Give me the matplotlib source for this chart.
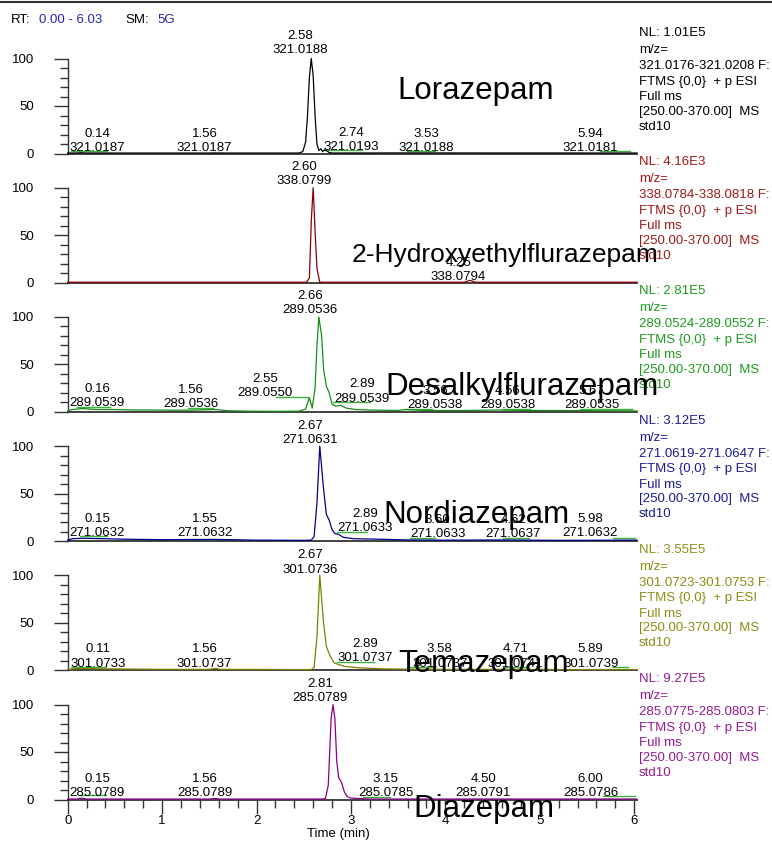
import matplotlib
matplotlib.use('Agg')
import matplotlib.pyplot as plt
from matplotlib.ticker import MultipleLocator
from matplotlib.lines import Line2D

plt.rcParams['font.family'] = ['Liberation Sans', 'DejaVu Sans']

W, H = 772, 841

# ---------------- data ----------------
compounds = ['Lorazepam', '2-Hydroxyethylflurazepam', 'Desalkylflurazepam',
             'Nordiazepam', 'Temazepam', 'Diazepam']
nl_values = ['1.01E5', '4.16E3', '2.81E5', '3.12E5', '3.55E5', '9.27E5']
mz_ranges = ['321.0176-321.0208', '338.0784-338.0818', '289.0524-289.0552',
             '271.0619-271.0647', '301.0723-301.0753', '285.0775-285.0803']
x_ticks = [0, 1, 2, 3, 4, 5, 6]
y_ticks = [0, 50, 100]

# traces (time in min, relative abundance %)
p1_t = [0.00, 0.10, 0.14, 0.20, 1.50, 1.56, 1.62, 2.45, 2.49, 2.52, 2.54, 2.56, 2.58, 2.60,
        2.62, 2.64, 2.66, 2.68, 2.70, 2.72, 2.74, 2.77, 2.80, 3.53, 5.94, 6.03]
p1_y = [0.5, 0.5, 0.8, 0.5, 0.5, 0.6, 0.5, 0.5, 2, 12, 40, 80, 100, 82,
        40, 10, 3, 5, 2, 4, 3, 1, 0.5, 0.6, 0.5, 0.5]

p2_t = [0.00, 2.53, 2.56, 2.58, 2.60, 2.62, 2.64, 2.67, 4.20, 4.26, 4.32, 6.03]
p2_y = [0.5, 0.5, 5, 65, 100, 55, 15, 0.5, 0.5, 2.5, 0.5, 0.5]

p3_t = [0.00, 0.05, 0.10, 0.16, 0.30, 0.50, 0.70, 0.90, 1.10, 1.30, 1.56, 1.70, 1.90,
        2.20, 2.45, 2.52, 2.56, 2.59, 2.62, 2.64, 2.66, 2.69, 2.71, 2.74, 2.77, 2.80,
        2.84, 2.89, 2.95, 3.05, 3.20, 3.50, 3.58, 3.80, 4.20, 4.56, 4.90, 5.30, 5.60, 6.03]
p3_y = [1.0, 2.5, 3.0, 3.5, 2.5, 2.5, 2.0, 2.0, 1.8, 1.8, 2.5, 1.2, 0.8,
        0.6, 0.8, 3, 15, 4, 25, 70, 100, 80, 45, 27, 20, 8,
        6, 7, 4, 2.5, 2.0, 1.5, 2.5, 1.5, 1.5, 2.0, 1.5, 1.5, 1.2, 1.0]

p4_t = [0.00, 0.05, 0.15, 0.40, 0.60, 1.00, 1.55, 2.00, 2.50, 2.58, 2.61, 2.64, 2.67,
        2.71, 2.74, 2.77, 2.80, 2.83, 2.87, 2.92, 3.03, 3.30, 3.60, 4.00, 4.62, 5.20, 5.98, 6.03]
p4_y = [1.0, 2.5, 3.0, 2.5, 2.0, 1.5, 1.8, 1.0, 0.8, 1.0, 5, 40, 100,
        55, 28, 22, 12, 8, 7, 4, 2.5, 2.0, 1.2, 1.0, 1.2, 0.8, 1.0, 1.0]

p5_t = [0.00, 0.05, 0.11, 0.40, 1.00, 1.50, 1.56, 1.62, 2.50, 2.58, 2.61, 2.64, 2.67,
        2.71, 2.74, 2.78, 2.82, 2.87, 2.94, 3.10, 3.35, 3.58, 4.00, 4.71, 5.30, 5.89, 6.03]
p5_y = [0.8, 1.5, 2.0, 1.5, 1.0, 1.0, 2.0, 1.0, 0.8, 0.8, 3, 35, 100,
        50, 25, 15, 8, 6, 4, 2.5, 1.5, 1.2, 1.0, 1.0, 0.8, 0.8, 0.8]

p6_t = [0.00, 0.10, 0.15, 0.20, 1.50, 1.56, 1.62, 2.70, 2.73, 2.76, 2.79, 2.81, 2.83,
        2.85, 2.87, 2.90, 2.93, 2.96, 3.00, 3.10, 3.20, 6.03]
p6_y = [0.5, 0.5, 1.5, 0.5, 0.5, 1.0, 0.5, 0.5, 1, 15, 85, 100, 85,
        40, 23, 18, 8, 3, 1.5, 1.0, 0.5, 0.5]

traces_t = [p1_t, p2_t, p3_t, p4_t, p5_t, p6_t]
traces_y = [p1_y, p2_y, p3_y, p4_y, p5_y, p6_y]

# peak labels: (x centre in min, y of upper line in %, RT text, m/z text)
p1_labels = [(0.31, 21, '0.14', '321.0187'), (1.45, 21, '1.56', '321.0187'),
             (2.46, 124, '2.58', '321.0188'), (3.00, 22, '2.74', '321.0193'),
             (3.80, 21, '3.53', '321.0188'), (5.53, 21, '5.94', '321.0181')]
p2_labels = [(2.50, 122, '2.60', '338.0799'), (4.14, 21, '4.25', '338.0794')]
p3_labels = [(0.31, 24, '0.16', '289.0539'), (1.31, 23, '1.56', '289.0536'),
             (2.09, 35, '2.55', '289.0550'), (2.57, 122, '2.66', '289.0536'),
             (3.12, 29, '2.89', '289.0539'), (3.89, 22, '3.56', '289.0538'),
             (4.66, 22, '4.56', '289.0538'), (5.55, 22, '5.67', '289.0535')]
p4_labels = [(0.31, 23, '0.15', '271.0632'), (1.45, 23, '1.55', '271.0632'),
             (2.57, 121, '2.67', '271.0631'), (3.15, 29, '2.89', '271.0633'),
             (3.92, 22, '3.60', '271.0633'), (4.72, 22, '4.62', '271.0637'),
             (5.53, 23, '5.98', '271.0632')]
p5_labels = [(0.32, 22, '0.11', '301.0733'), (1.45, 22, '1.56', '301.0737'),
             (2.57, 121, '2.67', '301.0736'), (3.15, 28, '2.89', '301.0737'),
             (3.94, 22, '3.58', '301.0737'), (4.74, 22, '4.71', '301.0741'),
             (5.54, 22, '5.89', '301.0739')]
p6_labels = [(0.31, 22, '0.15', '285.0789'), (1.45, 22, '1.56', '285.0789'),
             (2.67, 122, '2.81', '285.0789'), (3.37, 22, '3.15', '285.0785'),
             (4.40, 22, '4.50', '285.0791'), (5.54, 22, '6.00', '285.0786')]
labels_all = [p1_labels, p2_labels, p3_labels, p4_labels, p5_labels, p6_labels]

# green label leader segments: (x0, x1, y%)
p1_leaders = [(0.04, 0.42, 2.5), (2.72, 3.12, 4), (3.59, 3.89, 3), (5.64, 5.96, 3)]
p2_leaders = []
p3_leaders = [(0.10, 0.45, 5), (1.27, 1.54, 4), (2.21, 2.55, 16), (2.81, 3.20, 10),
              (3.57, 3.86, 3), (4.60, 4.90, 3), (5.43, 5.98, 3)]
p4_leaders = [(0.13, 0.42, 5), (2.85, 3.17, 10), (3.63, 3.89, 3), (4.61, 4.89, 3), (5.78, 6.01, 3)]
p5_leaders = [(0.04, 0.41, 4), (2.85, 3.24, 9), (3.63, 3.89, 3), (4.61, 4.89, 3), (5.78, 5.93, 3)]
p6_leaders = [(0.13, 0.41, 5), (3.13, 3.41, 3), (5.67, 6.01, 3.5)]
leaders_all = [p1_leaders, p2_leaders, p3_leaders, p4_leaders, p5_leaders, p6_leaders]

# ---------------- style ----------------
trace_colors = ['black', '#8b0000', '#168c16', '#00008b', '#808000', '#8b008b']
text_colors = ['black', '#a01818', '#1e9a1e', '#1a1a96', '#8c8c14', '#941a94']
name_pos = [(397, 99, 22.5), (352, 262, 19), (385, 395, 22.5),
            (383, 523, 22.5), (398, 672, 22.5), (413, 817, 22.5)]
SMALL = 9.5

fig = plt.figure(figsize=(W / 100, H / 100), dpi=100)
fig.patch.set_facecolor('white')

ax_left = 67.7
ax_right = 637.0
panel_h = 95.0

def fy(ypx):
    return 1 - ypx / H

def fx(xpx):
    return xpx / W

for i in range(6):
    y0 = 153.5 + 129.2 * i
    ax = fig.add_axes([fx(ax_left), fy(y0), (ax_right - ax_left) / W, panel_h / H])
    ax.set_facecolor('none')
    ax.set_xlim(0, 6.03)
    ax.set_ylim(0, 100)
    for s in ['top', 'right']:
        ax.spines[s].set_visible(False)
    ax.spines['left'].set_color('#333333')
    ax.spines['left'].set_linewidth(1.0)
    ax.spines['bottom'].set_color('#333333')
    ax.spines['bottom'].set_linewidth(1.3)

    ax.set_yticks(y_ticks)
    ax.set_yticklabels([str(v) for v in y_ticks])
    ax.yaxis.set_minor_locator(MultipleLocator(10))
    ax.tick_params(axis='y', which='major', length=10, width=1, color='#333333',
                   labelsize=SMALL, pad=14, direction='out')
    ax.tick_params(axis='y', which='minor', length=5.5, width=1, color='#333333', direction='out')

    if i == 5:
        ax.set_xticks(x_ticks)
        ax.set_xticklabels([str(v) for v in x_ticks])
        ax.xaxis.set_minor_locator(MultipleLocator(0.2))
        ax.tick_params(axis='x', which='major', length=10, width=1, color='#333333',
                       labelsize=SMALL, pad=1, direction='out')
        ax.tick_params(axis='x', which='minor', length=6, width=1, color='#333333', direction='out')
    else:
        ax.set_xticks([])

    for (x0, x1, yy) in leaders_all[i]:
        ax.plot([x0, x1], [yy, yy], color='#3cb43c', lw=1.0, clip_on=False, zorder=2)

    ax.plot(traces_t[i], traces_y[i], color=trace_colors[i], lw=0.9, clip_on=False, zorder=3)

    for (lx, ly, rt, mz) in labels_all[i]:
        ax.text(lx, ly, rt, ha='center', va='center', fontsize=SMALL, color='black',
                clip_on=False, zorder=4)
        ax.text(lx, ly - 15, mz, ha='center', va='center', fontsize=SMALL, color='black',
                clip_on=False, zorder=4)

    # right-hand info block
    nl_y = y0 - 120.5
    lines = ['NL: ' + nl_values[i], 'm/z=', mz_ranges[i] + ' F:', 'FTMS {0,0}  + p ESI',
             'Full ms', '[250.00-370.00]  MS', 'std10']
    ys = [nl_y, nl_y + 17, nl_y + 33, nl_y + 48.5, nl_y + 64, nl_y + 78.5, nl_y + 93.5]
    for txt, yy in zip(lines, ys):
        fig.text(fx(639), fy(yy), txt, ha='left', va='center', fontsize=SMALL,
                 color=text_colors[i])

# compound names
for name, (nx, ny, fs) in zip(compounds, name_pos):
    fig.text(fx(nx), fy(ny), name, ha='left', va='baseline', fontsize=fs, color='black',
             zorder=10)

# header
fig.text(fx(11), fy(20), 'RT:', ha='left', va='center', fontsize=SMALL, color='black')
fig.text(fx(39), fy(20), '0.00 - 6.03', ha='left', va='center', fontsize=SMALL, color='#2424b4')
fig.text(fx(125), fy(20), 'SM:', ha='left', va='center', fontsize=SMALL, color='black')
fig.text(fx(157), fy(20), '5G', ha='left', va='center', fontsize=SMALL, color='#2424b4')

fig.text(fx(338), fy(834), 'Time (min)', ha='center', va='center', fontsize=SMALL, color='black')

fig.add_artist(Line2D([0, 1], [fy(1.5), fy(1.5)], transform=fig.transFigure,
                      color='#333333', lw=1.5))

fig.savefig('out.png', dpi=100, facecolor='white')
